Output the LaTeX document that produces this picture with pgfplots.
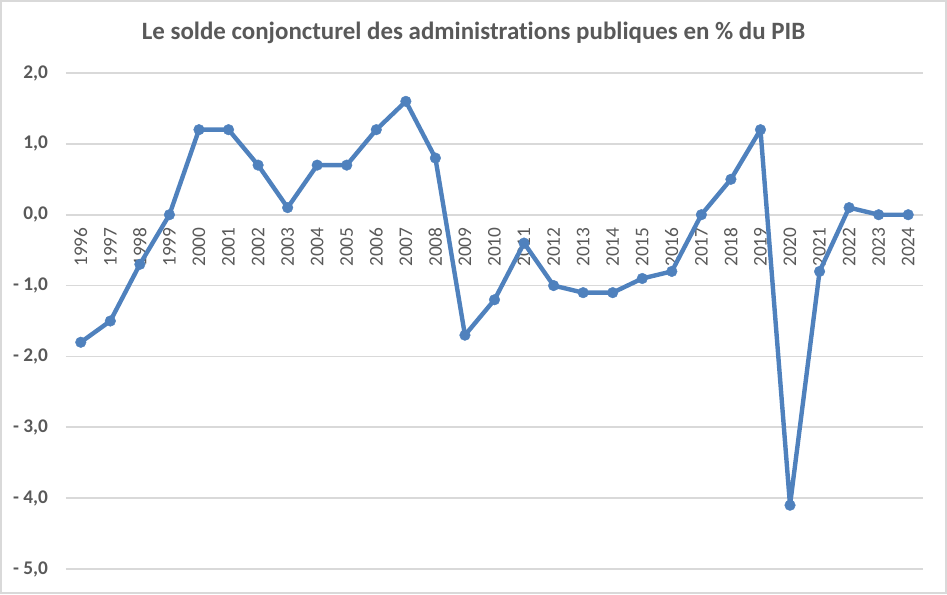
\documentclass[border=0pt]{standalone}
\usepackage{pgfplots}
\pgfplotsset{compat=1.18}
\usepackage{fontspec}
\setmainfont[Ligatures=NoCommon]{Carlito}
\definecolor{txtgray}{HTML}{595959}
\definecolor{gridgray}{HTML}{D9D9D9}
\definecolor{serie}{HTML}{4F81BD}
\begin{document}
\begin{tikzpicture}
\draw[gridgray, line width=1.2pt] (0.6pt,0.6pt) rectangle (709.65pt,444.9pt);
\node[text=txtgray, font=\fontsize{18.7}{22}\selectfont\bfseries] at (355.1pt,420.5pt) {Le solde conjoncturel des administrations publiques en \% du PIB};
\begin{axis}[
  at={(49.5pt,18.75pt)}, anchor=south west,
  scale only axis, width=642.75pt, height=372pt,
  xmin=1995.5, xmax=2024.5, ymin=-5, ymax=2,
  hide x axis, axis y line*=left, y axis line style={draw=none},
  ytick={-5,-4,-3,-2,-1,0,1,2},
  yticklabels={{- 5,0},{- 4,0},{- 3,0},{- 2,0},{- 1,0},{0,0},{1,0},{2,0}},
  yticklabel style={anchor=east, text=txtgray, font=\fontsize{14.5}{16}\selectfont\bfseries, xshift=-10pt},
  ymajorgrids, grid style={gridgray, line width=1.2pt},
  major tick length=0pt,
]
\end{axis}
\begin{axis}[
  at={(49.5pt,18.75pt)}, anchor=south west,
  scale only axis, width=642.75pt, height=372pt,
  xmin=1995.5, xmax=2024.5, ymin=-5, ymax=2,
  axis x line=middle, axis y line=none,
  x axis line style={draw=none},
  xtick={1996,...,2024},
  xticklabels={1996,1997,1998,1999,2000,2001,2002,2003,2004,2005,2006,2007,2008,2009,2010,2011,2012,2013,2014,2015,2016,2017,2018,2019,2020,2021,2022,2023,2024},
  xticklabel style={rotate=90, anchor=east, text=txtgray, font=\fontsize{14.5}{16}\selectfont, xshift=-6pt},
  major tick length=0pt,
  clip=false,
]
\addplot[serie, line width=3.3pt, line join=round, mark=*, mark size=4pt, mark options={solid, fill=serie, draw=serie, line width=0.3pt}] coordinates {
(1996,-1.8)(1997,-1.5)(1998,-0.7)(1999,0.0)(2000,1.2)(2001,1.2)(2002,0.7)(2003,0.1)(2004,0.7)(2005,0.7)(2006,1.2)(2007,1.6)(2008,0.8)(2009,-1.7)(2010,-1.2)(2011,-0.4)(2012,-1.0)(2013,-1.1)(2014,-1.1)(2015,-0.9)(2016,-0.8)(2017,0.0)(2018,0.5)(2019,1.2)(2020,-4.1)(2021,-0.8)(2022,0.1)(2023,0.0)(2024,0.0)
};
\end{axis}
\end{tikzpicture}
\end{document}
